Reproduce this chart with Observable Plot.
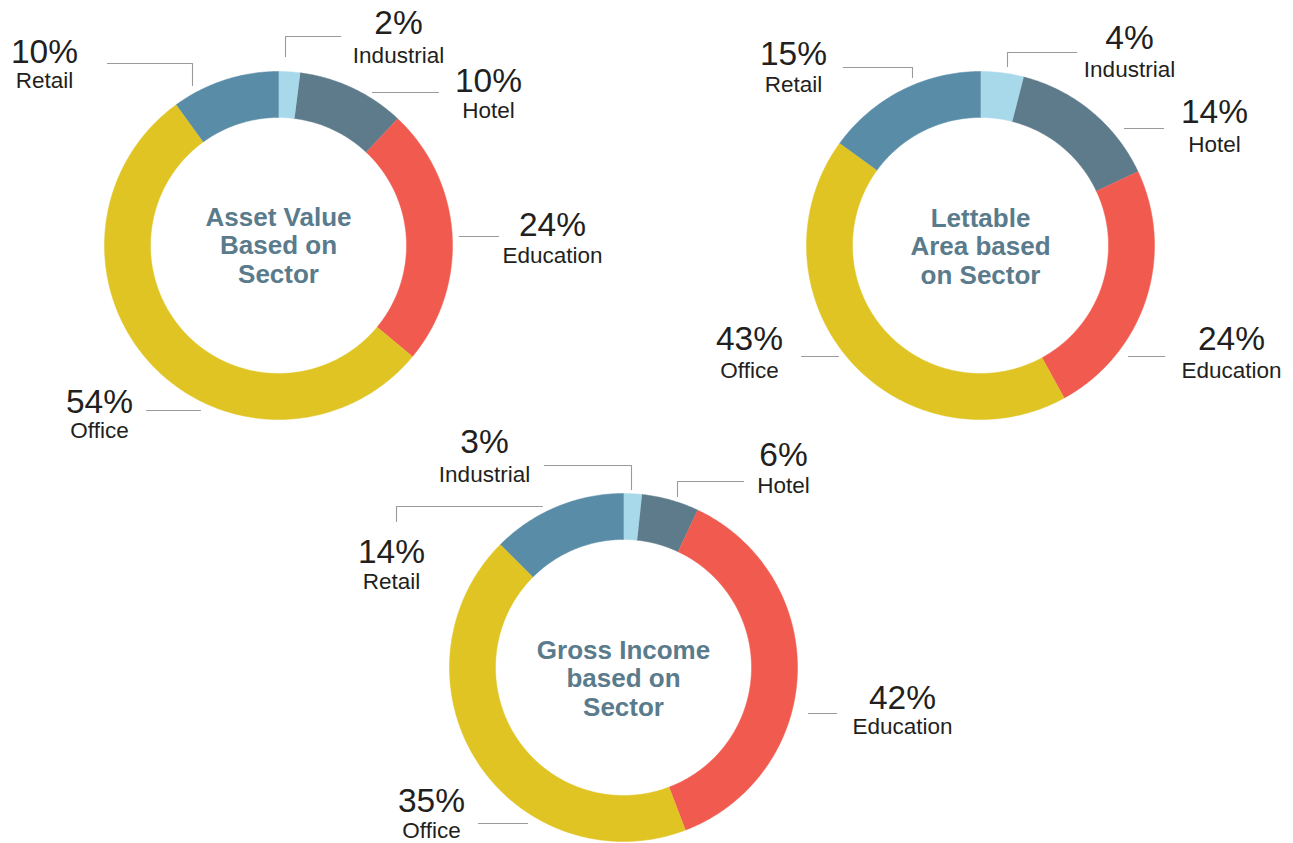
<!DOCTYPE html>
<html>
<head>
<meta charset="utf-8">
<script src="https://cdn.jsdelivr.net/npm/d3@7"></script>
<script src="https://cdn.jsdelivr.net/npm/@observablehq/plot@0.6"></script>
<style>
  html, body { margin: 0; padding: 0; background: #ffffff; overflow: hidden; }
  #chart svg { display: block; }
</style>
</head>
<body>
<div id="chart"></div>
<script>
// ---------- DATA ----------
const sectors = ["Industrial", "Hotel", "Education", "Office", "Retail"];
const sectorColors = ["#a8d9eb", "#5e7b8b", "#f15b4f", "#dfc423", "#598ca7"];

// Percent labels as printed
const assetValuePct   = [2, 10, 24, 54, 10];
const lettableAreaPct = [4, 14, 24, 43, 15];
const grossIncomePct  = [3, 6, 42, 35, 14];

// Slice sizes as drawn in the picture (Gross Income arcs differ from its printed labels)
const assetValueArc   = [2, 10, 24, 54, 10];
const lettableAreaArc = [4, 14, 24, 43, 15];
const grossIncomeArc  = [1.7, 5.3, 37.2, 43.3, 12.5];

const titleAsset    = ["Asset Value", "Based on", "Sector"];
const titleLettable = ["Lettable", "Area based", "on Sector"];
const titleGross    = ["Gross Income", "based on", "Sector"];

// ---------- LAYOUT ----------
const W = 1293, H = 843;
const R_OUT = 174, R_IN = 128;
const PCT_SIZE = 33.5, LBL_SIZE = 22.5, TITLE_SIZE = 26, TITLE_LH = 28.5;

const charts = [
  {
    pct: assetValuePct, arc: assetValueArc, title: titleAsset,
    cx: 278, cy: 245, titleY: 225,
    // per sector: [pctCenterX, pctBaseline, labelBaseline]
    labels: [[398, 33, 62], [488, 91, 117], [552, 235, 262], [99, 412, 437], [44, 62, 87]],
    leaders: [
      [[340, 36], [285, 36], [285, 56]],
      [[372, 92], [438, 92]],
      [[459, 236], [498, 236]],
      [[146, 410], [200, 410]],
      [[107, 63], [192, 63], [192, 85]]
    ]
  },
  {
    pct: lettableAreaPct, arc: lettableAreaArc, title: titleLettable,
    cx: 980, cy: 245, titleY: 226,
    labels: [[1129, 48, 76], [1214, 122, 151], [1231, 349, 377], [749, 349, 377], [793, 64, 91]],
    leaders: [
      [[1076, 52], [1007, 52], [1007, 66]],
      [[1124, 128], [1163, 128]],
      [[1128, 356], [1164, 356]],
      [[801, 356], [838, 356]],
      [[843, 67], [912, 67], [912, 77]]
    ]
  },
  {
    pct: grossIncomePct, arc: grossIncomeArc, title: titleGross,
    cx: 623, cy: 667, titleY: 658,
    labels: [[484, 452, 481], [783, 465, 492], [902, 708, 733], [431, 811, 837], [391, 562, 588]],
    leaders: [
      [[544, 465], [631, 465], [631, 489]],
      [[743, 481], [677, 481], [677, 496]],
      [[808, 713], [836, 713]],
      [[478, 823], [527, 823]],
      [[542, 506], [396, 506], [396, 521]]
    ]
  }
];

// ---------- BUILD MARK DATA ----------
const slicePts = [];
const leaderPts = [];
const pctText = [];
const lblText = [];
const titleText = [];

charts.forEach((c, ci) => {
  const arcs = d3.pie().sort(null).value(d => d)(c.arc);
  arcs.forEach((a, i) => {
    const key = ci + "-" + i;
    const n = Math.max(2, Math.ceil((a.endAngle - a.startAngle) / (Math.PI / 360)));
    for (let k = 0; k <= n; k++) {
      const t = a.startAngle + (a.endAngle - a.startAngle) * k / n;
      slicePts.push({key, color: sectorColors[i], x: c.cx + R_OUT * Math.sin(t), y: c.cy - R_OUT * Math.cos(t)});
    }
    for (let k = n; k >= 0; k--) {
      const t = a.startAngle + (a.endAngle - a.startAngle) * k / n;
      slicePts.push({key, color: sectorColors[i], x: c.cx + R_IN * Math.sin(t), y: c.cy - R_IN * Math.cos(t)});
    }
  });
  sectors.forEach((s, i) => {
    const [lx, py, ly] = c.labels[i];
    pctText.push({x: lx, y: py, text: c.pct[i] + "%"});
    lblText.push({x: lx, y: ly, text: s});
    c.leaders[i].forEach(([x, y]) => leaderPts.push({key: ci + "-" + i, x, y}));
  });
  c.title.forEach((t, j) => titleText.push({x: c.cx, y: c.titleY + j * TITLE_LH, text: t}));
});

const FONT = "'Liberation Sans', Arial, Helvetica, sans-serif";

const plot = Plot.plot({
  width: W,
  height: H,
  margin: 0,
  x: {domain: [0, W], range: [0, W], axis: null},
  y: {domain: [0, H], range: [0, H], axis: null},
  color: {type: "identity"},
  style: {fontFamily: FONT, background: "#ffffff"},
  marks: [
    Plot.line(slicePts, {x: "x", y: "y", z: "key", fill: "color", stroke: "color", strokeWidth: 0.5, curve: "linear"}),
    Plot.line(leaderPts, {x: "x", y: "y", z: "key", stroke: "#9a9a9a", strokeWidth: 1.1}),
    Plot.text(pctText, {x: "x", y: "y", text: "text", fontSize: PCT_SIZE, fill: "#231f20", textAnchor: "middle", lineAnchor: "bottom", fontFamily: FONT}),
    Plot.text(lblText, {x: "x", y: "y", text: "text", fontSize: LBL_SIZE, fill: "#231f20", textAnchor: "middle", lineAnchor: "bottom", fontFamily: FONT}),
    Plot.text(titleText, {x: "x", y: "y", text: "text", fontSize: TITLE_SIZE, fontWeight: "bold", fill: "#5a7b8c", textAnchor: "middle", lineAnchor: "bottom", fontFamily: FONT})
  ]
});

document.getElementById("chart").appendChild(plot);
</script>
</body>
</html>
